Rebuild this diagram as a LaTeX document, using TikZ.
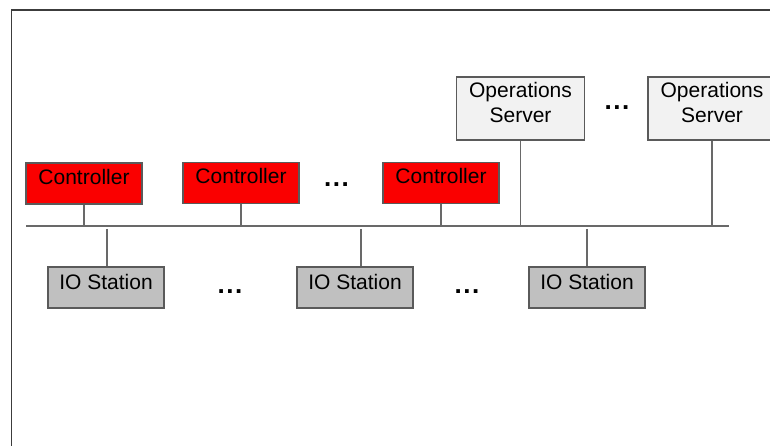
\documentclass[tikz,border=0pt]{standalone}
\usepackage{fontspec}
\setmainfont{Liberation Sans}
\definecolor{ctrlred}{RGB}{250,0,0}
\definecolor{iogray}{RGB}{192,192,192}
\definecolor{srvgray}{RGB}{242,242,242}
\definecolor{edgegray}{RGB}{90,90,90}
\definecolor{linegray}{RGB}{105,105,105}
\definecolor{framegray}{RGB}{60,60,60}
\begin{document}
\begin{tikzpicture}[x=1pt,y=-1pt,
  box/.style={draw=edgegray,line width=1.3pt,inner sep=0pt,minimum width=116pt,minimum height=41pt},
  ctrlbox/.style={box,fill=ctrlred},
  iobox/.style={box,fill=iogray},
  srvbox/.style={box,fill=srvgray,minimum width=128pt,minimum height=63pt},
  lbl/.style={anchor=base,inner sep=0pt,font=\fontsize{21}{25}\selectfont},
  dots/.style={inner sep=0pt,font=\fontsize{26}{26}\bfseries\selectfont},
  wire/.style={draw=linegray,line width=1.3pt}]
\useasboundingbox (0,0) rectangle (770,446);
\fill[white] (0,0) rectangle (770,446);
% frame
\draw[framegray,line width=1.8pt] (11.5,446) -- (11.5,10) -- (770,10);

% controllers
\node[ctrlbox] (c1) at (84,183.5) {};
\node[ctrlbox] (c2) at (241,183) {};
\node[ctrlbox] (c3) at (441,183) {};
\foreach \n in {c1,c2,c3}{\node[lbl] (\n t) at ([yshift=-22pt]\n.north) {Controller};}

% servers
\node[srvbox] (s1) at (520.5,108.5) {};
\node[srvbox] (s2) at (712,108.5) {};
\foreach \n in {s1,s2}{
  \node[lbl] (\n t1) at ([yshift=-21pt]\n.north) {Operations};
  \node[lbl] (\n t2) at ([yshift=-46.5pt]\n.north) {Server};}

% IO stations
\node[iobox] (i1) at (106,287.5) {};
\node[iobox] (i2) at (355,287.5) {};
\node[iobox] (i3) at (587,287.5) {};
\foreach \n in {i1,i2,i3}{\node[lbl] (\n t) at ([yshift=-23pt]\n.north) {IO Station};}

% bus
\coordinate (busL) at (26,226);
\coordinate (busR) at (729,226);
\draw[wire] (busL) -- (busR);

% stubs to bus
\foreach \n in {c1,c2,c3,s1,s2}{\draw[wire] (\n.south) -- (\n.south |- busL);}
\foreach \n/\dx in {i1/1,i2/6,i3/0}{
  \coordinate (\n top) at ([xshift=\dx pt]\n.north);
  \coordinate (\n b) at ([yshift=-3pt]\n top |- busL);
  \draw[wire] (\n b) -- (\n top);}

% ellipses
\node[dots] (d1) at (336.5,185) {.\hspace{1.5pt}.\hspace{1.5pt}.};
\node[dots] (d2) at (617,108) {.\hspace{1.5pt}.\hspace{1.5pt}.};
\node[dots] (d3) at (230,292) {.\hspace{1.5pt}.\hspace{1.5pt}.};
\node[dots] (d4) at (467,292) {.\hspace{1.5pt}.\hspace{1.5pt}.};
\end{tikzpicture}
\end{document}
